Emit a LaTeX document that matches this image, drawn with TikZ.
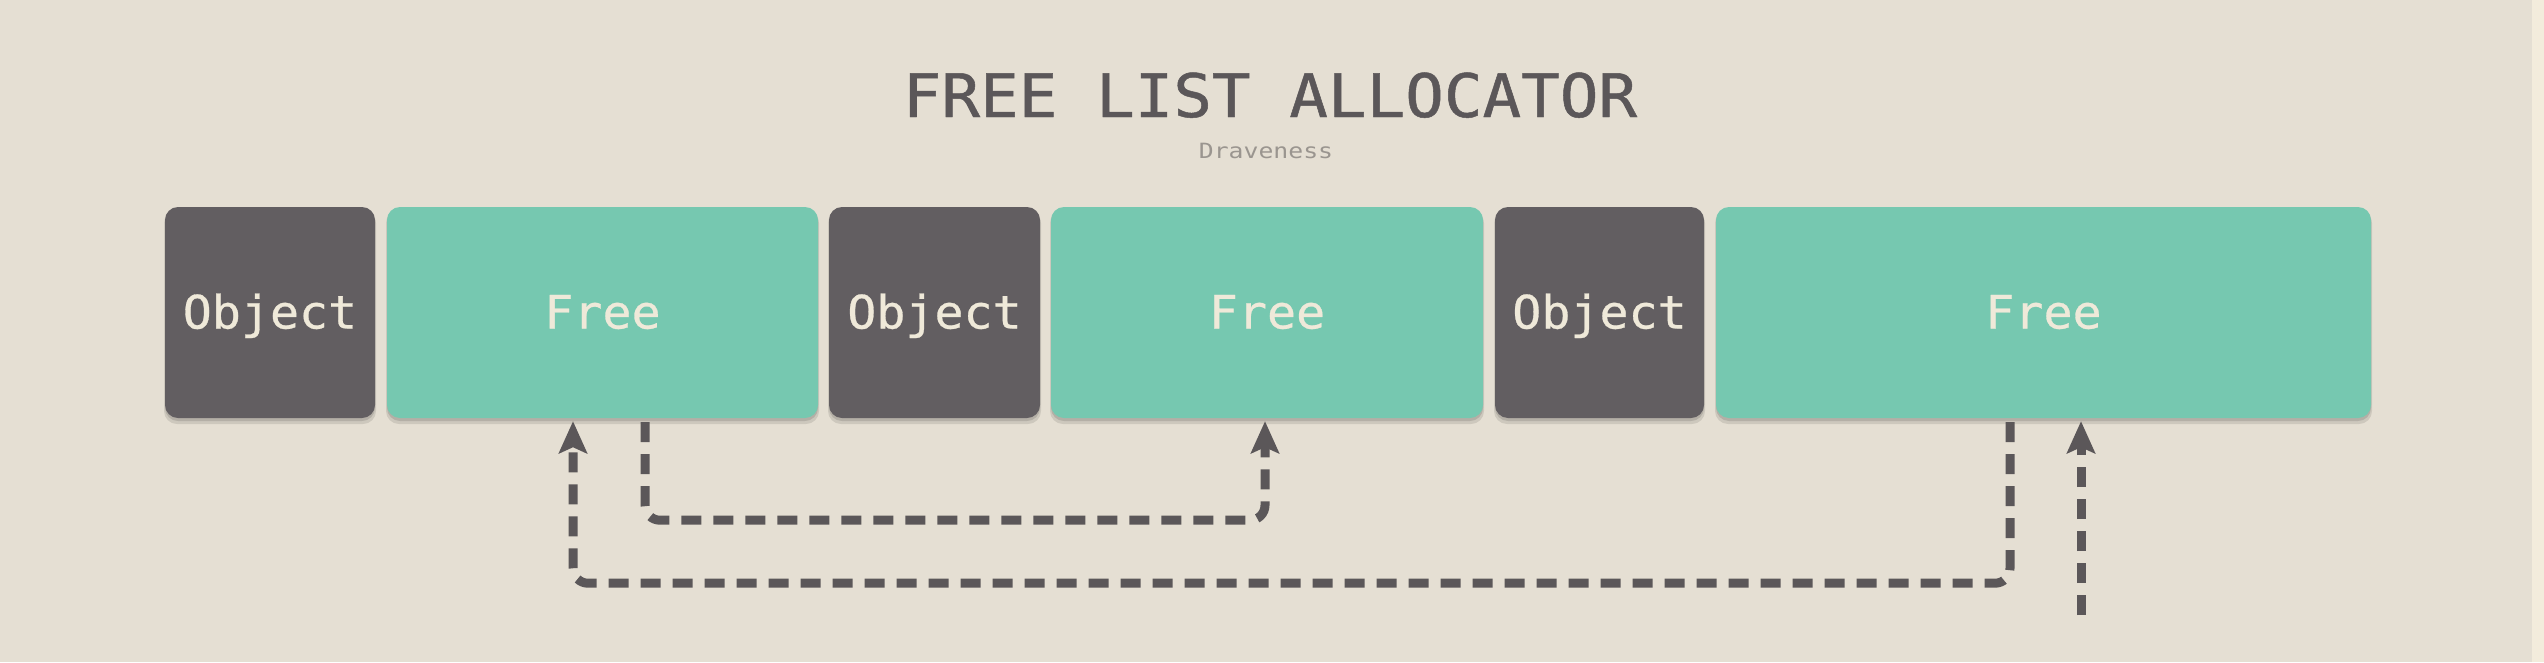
\documentclass[tikz,border=0pt]{standalone}
\usepackage{fontspec}
\setmonofont{DejaVu Sans Mono}
\newfontfamily\titlefont{DejaVu Sans Mono}[FakeBold=0.8]
\newfontfamily\boxfont{DejaVu Sans Mono}[FakeBold=0.6]
\usetikzlibrary{arrows.meta}
\definecolor{bg}{HTML}{E5DFD3}
\definecolor{edge}{HTML}{F3ECDC}
\definecolor{objc}{HTML}{625E61}
\definecolor{freec}{HTML}{76C8B0}
\definecolor{txtc}{HTML}{EFE9D9}
\definecolor{titlec}{HTML}{5B5759}
\definecolor{subc}{HTML}{9A958F}
\definecolor{linec}{HTML}{5B5759}
\tikzset{
  blk/.style={rounded corners=13pt, minimum height=211pt, inner sep=0pt,
    font=\boxfont\fontsize{46}{46}\selectfont, text=txtc, text height=32pt, text depth=0pt},
  objbox/.style={blk, fill=objc},
  freebox/.style={blk, fill=freec},
  link/.style={draw=linec, line width=9pt, dash pattern=on 20pt off 12pt, rounded corners=15pt},
  linkarrow/.style={link, -{Stealth[length=32pt,width=28pt,inset=6pt]}},
}
\newcommand{\sqz}[2]{\scalebox{#1}[1]{#2}}
\begin{document}
\begin{tikzpicture}[x=1pt,y=-1pt]
\fill[bg] (0,0) rectangle (2544,662);
\fill[edge] (2532,0) rectangle (2544,662);
\useasboundingbox (0,0) rectangle (2544,662);
% shadows
\foreach \a/\b in {165/375,387/818,829/1040,1051/1483,1495/1704,1716/2371}{
  \fill[black,opacity=0.10,rounded corners=13pt] (\a-1,210) rectangle (\b+1,424);
  \fill[black,opacity=0.12,rounded corners=13pt] (\a,209) rectangle (\b,421);
}
\node (title) at (1270,117) [anchor=base, font=\titlefont\fontsize{60}{60}\selectfont, text=titlec, inner sep=0pt] {\sqz{1.07}{FREE LIST ALLOCATOR}};
\node (author) at (1266,158) [anchor=base, font=\ttfamily\fontsize{21}{21}\selectfont, text=subc, inner sep=0pt] {\sqz{1.18}{Draveness}};
\node[objbox, minimum width=210pt] (o1) at (270,312.5) {\sqz{1.05}{Object}};
\node[freebox, minimum width=431pt] (f1) at (602.5,312.5) {\sqz{1.05}{Free}};
\node[objbox, minimum width=211pt] (o2) at (934.5,312.5) {\sqz{1.05}{Object}};
\node[freebox, minimum width=432pt] (f2) at (1267,312.5) {\sqz{1.05}{Free}};
\node[objbox, minimum width=209pt] (o3) at (1599.5,312.5) {\sqz{1.05}{Object}};
\node[freebox, minimum width=655pt] (f3) at (2043.5,312.5) {\sqz{1.05}{Free}};
% links
\coordinate (in) at ([xshift=37.5pt,yshift=-197pt]f3.south);
\draw[linkarrow] ([xshift=42.5pt,yshift=-4pt]f1.south) -- ++(0,98) -| ([xshift=-2pt,yshift=-3pt]f2.south);
\draw[linkarrow] ([xshift=-33.5pt,yshift=-4pt]f3.south) -- ++(0,161) -| ([xshift=-29.5pt,yshift=-3pt]f1.south);
\draw[linkarrow] (in) -- ([yshift=-3pt]in |- f3.south);
\end{tikzpicture}
\end{document}
